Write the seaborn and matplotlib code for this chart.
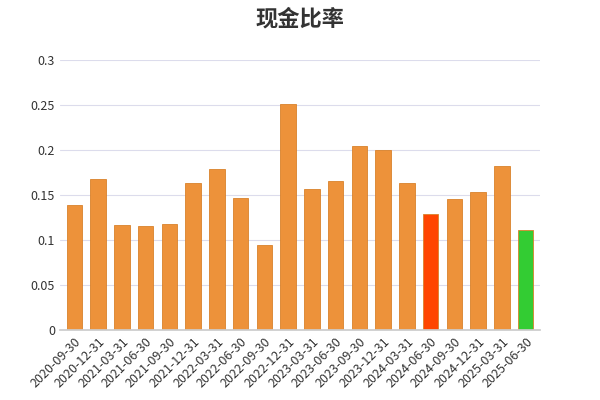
import matplotlib
matplotlib.use("Agg")
import matplotlib.pyplot as plt
import seaborn as sns

dates = ["2020-09-30","2020-12-31","2021-03-31","2021-06-30","2021-09-30","2021-12-31",
         "2022-03-31","2022-06-30","2022-09-30","2022-12-31","2023-03-31","2023-06-30",
         "2023-09-30","2023-12-31","2024-03-31","2024-06-30","2024-09-30","2024-12-31",
         "2025-03-31","2025-06-30"]
values = [0.139,0.168,0.117,0.116,0.118,0.163,0.179,0.147,0.094,0.251,0.157,0.166,
          0.204,0.200,0.163,0.129,0.146,0.153,0.182,0.111]
colors = ["#ED923A"]*len(dates)
colors[15] = "#FF4500"
colors[19] = "#33CC33"

sns.set_theme(style="white")
plt.rcParams['font.family'] = ['Noto Sans CJK SC', 'DejaVu Sans']

fig, ax = plt.subplots(figsize=(6, 4), dpi=100)
fig.subplots_adjust(left=0.1, right=0.9, top=0.85, bottom=0.175)
sns.barplot(x=dates, y=values, palette=colors, hue=dates, legend=False, ax=ax,
            width=0.65, edgecolor="#D9822B", linewidth=0.6, saturation=1)
ax.set_ylim(0, 0.3)
ax.set_yticks([0, 0.05, 0.1, 0.15, 0.2, 0.25, 0.3])
ax.set_yticklabels(["0", "0.05", "0.1", "0.15", "0.2", "0.25", "0.3"])
ax.yaxis.grid(True, color="#DCDCEC", linewidth=0.8)
ax.set_axisbelow(True)
for s in ["top", "right", "left"]:
    ax.spines[s].set_visible(False)
ax.spines["bottom"].set_color("#CCCCCC")
ax.tick_params(axis="both", labelsize=9, colors="#333333", length=0)
plt.setp(ax.get_xticklabels(), rotation=45, ha="right", rotation_mode="anchor")
ax.set_xlim(-0.6, len(dates) - 0.4)
fig.suptitle("现金比率", fontsize=16, fontweight="bold", color="#333333", y=0.98)
fig.savefig("out.png")
